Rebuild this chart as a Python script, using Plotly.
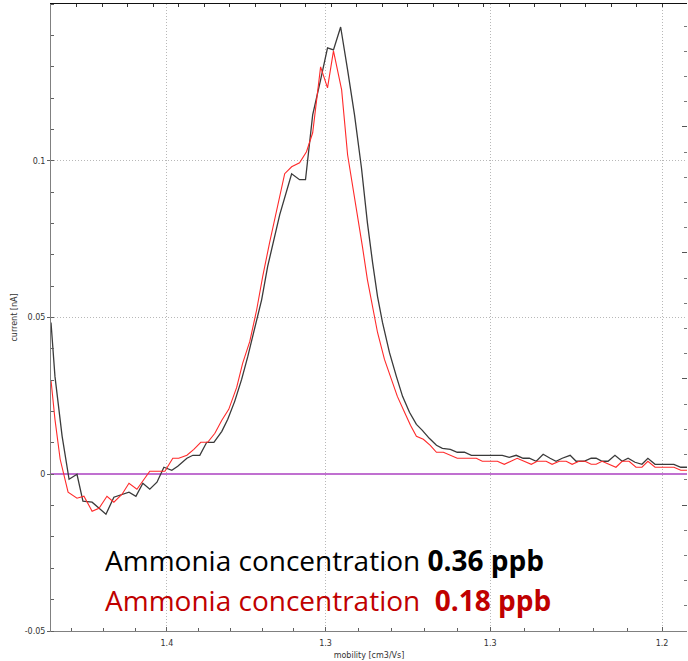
import plotly.graph_objects as go

# ---- data (mobility [cm2/Vs], current [nA]) ----
black_x = [1.4468, 1.4452, 1.4423, 1.4395, 1.4363, 1.4339, 1.4302, 1.4246, 1.4214, 1.4181,
           1.4153, 1.4125, 1.4097, 1.4069, 1.4040, 1.4012, 1.3980, 1.3956, 1.3919, 1.3895,
           1.3867, 1.3839, 1.3810, 1.3778, 1.3754, 1.3726, 1.3698, 1.3673, 1.3645, 1.3617,
           1.3593, 1.3565, 1.3544, 1.3496, 1.3464, 1.3440, 1.3411, 1.3379, 1.3351, 1.3327,
           1.3298, 1.3270, 1.3242, 1.3214, 1.3190, 1.3169, 1.3149, 1.3129, 1.3101, 1.3073,
           1.3048, 1.3020, 1.2992, 1.2968, 1.2940, 1.2911, 1.2887, 1.2855, 1.2827, 1.2798,
           1.2770, 1.2746, 1.2718, 1.2694, 1.2669, 1.2645, 1.2617, 1.2589, 1.2561, 1.2536,
           1.2508, 1.2480, 1.2452, 1.2428, 1.2403, 1.2371, 1.2347, 1.2315, 1.2286, 1.2266,
           1.2242, 1.2218, 1.2190, 1.2161, 1.2137, 1.2109, 1.2081, 1.2057, 1.2028, 1.2004,
           1.1976, 1.1952, 1.1924, 1.1899]
black_y = [0.04841, 0.03121, 0.01210, -0.00159, 0.0, -0.00860, -0.00892, -0.01274, -0.00732, -0.00637,
           -0.00573, -0.00701, -0.00287, -0.00478, -0.00255, 0.00223, 0.00127, 0.00255, 0.00510, 0.00605,
           0.00605, 0.01019, 0.01019, 0.01369, 0.01752, 0.02325, 0.03025, 0.03758, 0.04618, 0.05573,
           0.06624, 0.07580, 0.08280, 0.09586, 0.09395, 0.09395, 0.11465, 0.12580, 0.13599, 0.13535,
           0.14267, 0.12898, 0.11465, 0.09777, 0.08025, 0.06752, 0.05669, 0.04841, 0.03885, 0.03121,
           0.02484, 0.01975, 0.01592, 0.01401, 0.01146, 0.00924, 0.00828, 0.00796, 0.00701, 0.00701,
           0.00605, 0.00605, 0.00605, 0.00605, 0.00605, 0.00605, 0.00541, 0.00605, 0.00510, 0.00510,
           0.00414, 0.00637, 0.00510, 0.00414, 0.00510, 0.00605, 0.00414, 0.00414, 0.00510, 0.00510,
           0.00414, 0.00414, 0.00605, 0.00414, 0.00510, 0.00382, 0.00318, 0.00510, 0.00318, 0.00318,
           0.00318, 0.00318, 0.00223, 0.00223]

red_x = [1.4468, 1.4452, 1.4431, 1.4399, 1.4363, 1.4335, 1.4302, 1.4274, 1.4242, 1.4214,
         1.4181, 1.4153, 1.4121, 1.4097, 1.4069, 1.4040, 1.4008, 1.3976, 1.3952, 1.3919,
         1.3891, 1.3863, 1.3835, 1.3806, 1.3778, 1.3750, 1.3718, 1.3694, 1.3665, 1.3637,
         1.3613, 1.3585, 1.3556, 1.3524, 1.3496, 1.3464, 1.3436, 1.3411, 1.3379, 1.3351,
         1.3327, 1.3294, 1.3270, 1.3250, 1.3230, 1.3210, 1.3190, 1.3169, 1.3149, 1.3121,
         1.3093, 1.3069, 1.3040, 1.3016, 1.2992, 1.2964, 1.2936, 1.2911, 1.2883, 1.2851,
         1.2827, 1.2798, 1.2774, 1.2750, 1.2726, 1.2698, 1.2665, 1.2637, 1.2609, 1.2585,
         1.2557, 1.2528, 1.2504, 1.2468, 1.2444, 1.2415, 1.2387, 1.2363, 1.2335, 1.2311,
         1.2286, 1.2266, 1.2242, 1.2214, 1.2186, 1.2161, 1.2133, 1.2105, 1.2081, 1.2057,
         1.2028, 1.2004, 1.1976, 1.1952, 1.1924, 1.1899]
red_y = [0.02994, 0.01752, 0.00478, -0.00573, -0.00764, -0.00701, -0.01178, -0.01083, -0.00701, -0.00892,
         -0.00637, -0.00287, -0.00478, -0.00223, 0.00096, 0.00096, 0.00096, 0.00510, 0.00510, 0.00605,
         0.00796, 0.01019, 0.01019, 0.01306, 0.01720, 0.02070, 0.02771, 0.03535, 0.04236, 0.05255,
         0.06306, 0.07389, 0.08439, 0.09586, 0.09809, 0.09936, 0.10287, 0.10892, 0.12994, 0.12325,
         0.13503, 0.12261, 0.10191, 0.09236, 0.08312, 0.07261, 0.06210, 0.05350, 0.04522, 0.03662,
         0.03025, 0.02484, 0.01975, 0.01561, 0.01210, 0.01115, 0.00924, 0.00701, 0.00701, 0.00605,
         0.00510, 0.00510, 0.00510, 0.00510, 0.00414, 0.00414, 0.00414, 0.00318, 0.00414, 0.00510,
         0.00414, 0.00318, 0.00414, 0.00414, 0.00318, 0.00414, 0.00414, 0.00318, 0.00414, 0.00414,
         0.00318, 0.00318, 0.00414, 0.00318, 0.00223, 0.00414, 0.00414, 0.00223, 0.00223, 0.00414,
         0.00223, 0.00223, 0.00223, 0.00223, 0.00127, 0.00127]

x_tick_vals = [1.4, 1.3359, 1.2694, 1.2]
x_tick_text = ["1.4", "1.3", "1.3", "1.2"]
x_minor_vals = [1.4385, 1.4256, 1.4128, 1.3872, 1.3744, 1.3615, 1.3487,
                1.3226, 1.3093, 1.2960, 1.2827, 1.2555, 1.2416, 1.2278, 1.2139]
y_tick_vals = [-0.05, 0, 0.05, 0.1]
y_tick_text = ["-0.05", "0", "0.05", "0.1"]

label_black = "Ammonia concentration <b>0.36 ppb</b>"
label_red = "Ammonia concentration\u00a0 <b>0.18 ppb</b>"

fig = go.Figure()
fig.add_trace(go.Scatter(x=black_x, y=black_y, mode="lines",
                         line=dict(color="#3a3a3a", width=1.3), showlegend=False))
fig.add_trace(go.Scatter(x=red_x, y=red_y, mode="lines",
                         line=dict(color="#ff2a2a", width=1.1), showlegend=False))
# empty traces to activate the decorative top / right axes
fig.add_trace(go.Scatter(x=[], y=[], xaxis="x2", yaxis="y", showlegend=False))
fig.add_trace(go.Scatter(x=[], y=[], xaxis="x", yaxis="y2", showlegend=False))

tick_font = dict(family="DejaVu Sans", size=8, color="#333333")
grid_dash = "1px,2px"

fig.update_layout(
    width=688, height=661,
    margin=dict(l=51, r=1, t=4, b=30),
    paper_bgcolor="white", plot_bgcolor="white",
    xaxis=dict(
        range=[1.4468, 1.1899], tickmode="array", tickvals=x_tick_vals, ticktext=x_tick_text,
        showgrid=True, gridcolor="#b8b8b8", griddash=grid_dash, gridwidth=1,
        zeroline=False, showline=True, linecolor="#808080", linewidth=1,
        ticks="inside", ticklen=4, tickcolor="#606060", tickfont=tick_font,
        ticklabelstandoff=4,
        minor=dict(tickmode="array", tickvals=x_minor_vals, ticks="inside",
                   ticklen=3, tickcolor="#606060", showgrid=False),
        title=dict(text="mobility [cm3/Vs]", font=dict(family="DejaVu Sans", size=8, color="#333333"),
                   standoff=5),
        automargin=False,
    ),
    yaxis=dict(
        range=[-0.05, 0.15], tickmode="array", tickvals=y_tick_vals, ticktext=y_tick_text,
        showgrid=True, gridcolor="#b8b8b8", griddash=grid_dash, gridwidth=1,
        zeroline=True, zerolinecolor="#c070d0", zerolinewidth=1.5,
        showline=True, linecolor="#808080", linewidth=1,
        ticks="outside", ticklen=3, tickcolor="#606060", tickfont=tick_font,
        minor=dict(dtick=0.01, ticks="inside", ticklen=3, tickcolor="#606060", showgrid=False),
        title=dict(text="current [nA]", font=dict(family="DejaVu Sans", size=8, color="#333333"),
                   standoff=5),
        automargin=False,
    ),
    xaxis2=dict(
        overlaying="x", side="top", anchor="y", range=[-1.02, 23.98],
        tickmode="linear", tick0=0, dtick=1, ticks="inside", ticklen=3, tickcolor="#333333",
        showticklabels=False, showgrid=False, zeroline=False,
        showline=True, linecolor="#111111", linewidth=1,
    ),
    yaxis2=dict(
        overlaying="y", side="right", anchor="x", range=[0, 4.976],
        tickmode="linear", tick0=0, dtick=1, ticks="inside", ticklen=5, tickcolor="#555555",
        minor=dict(dtick=0.2, ticks="inside", ticklen=3, tickcolor="#777777"),
        showticklabels=False, showgrid=False, zeroline=False, showline=False,
    ),
    annotations=[
        dict(text=label_black, xref="paper", yref="paper", x=0.0816, y=0.1132,
             xanchor="left", yanchor="middle", showarrow=False,
             font=dict(family="Open Sans", size=28, color="black")),
        dict(text=label_red, xref="paper", yref="paper", x=0.0816, y=0.0494,
             xanchor="left", yanchor="middle", showarrow=False,
             font=dict(family="Open Sans", size=28, color="#c00000")),
    ],
)

fig.write_html("out.html", config={"displayModeBar": False},
               post_script="document.body.style.margin='0';")
